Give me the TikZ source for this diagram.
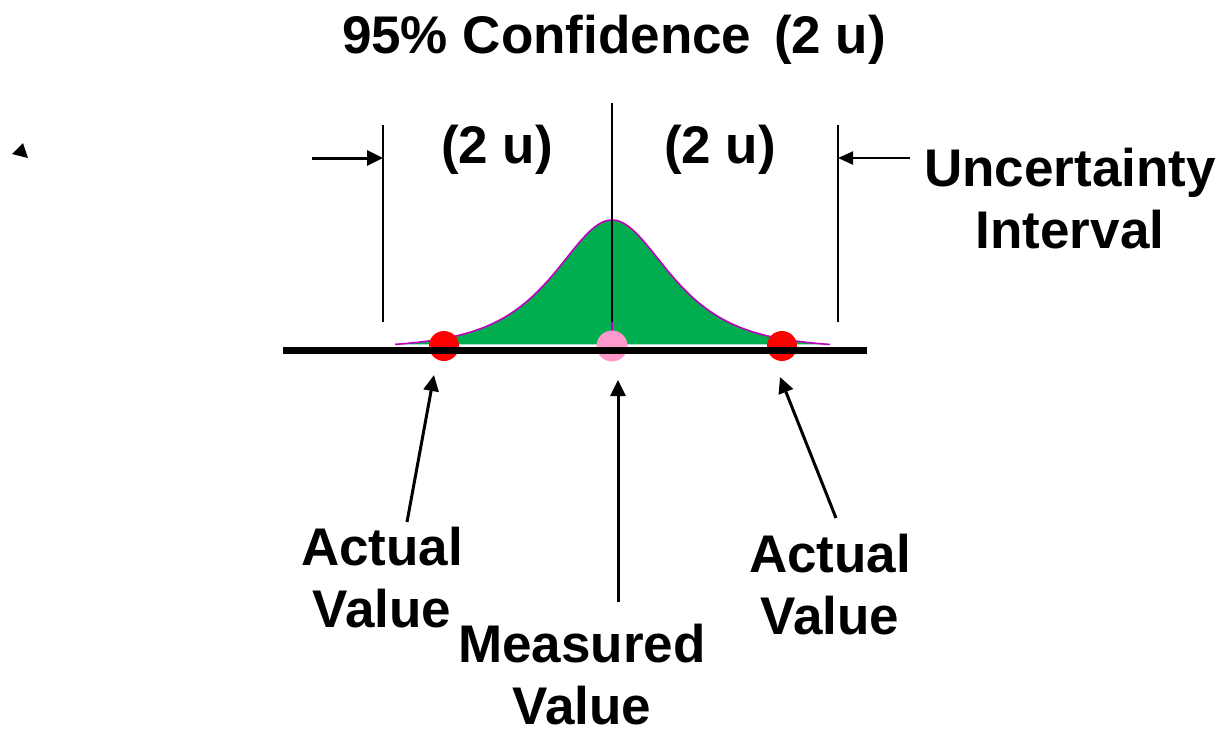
\documentclass[tikz,border=0pt]{standalone}
\usepackage{fontspec}
\setmainfont{Liberation Sans}
\usetikzlibrary{arrows.meta}
\definecolor{curvegreen}{RGB}{0,173,79}
\definecolor{curveedge}{RGB}{190,0,190}
\definecolor{dotpink}{RGB}{255,153,204}
\tikzset{
  lbl/.style={font=\fontsize{53}{62}\selectfont\bfseries, inner sep=0pt, align=center},
  thinline/.style={line width=2pt},
  ptr/.style={line width=3pt, -{Triangle[length=16pt,width=15pt]}},
  ptrthin/.style={line width=2pt, -{Triangle[length=15pt,width=13pt]}},
}
\begin{document}
\begin{tikzpicture}[x=1pt,y=-1pt]
\useasboundingbox (0,0) rectangle (1221,734);
% bell curve
\fill[curvegreen] plot[domain=-217:218,samples=160,smooth] ({612+\x},{348-128/cosh(\x/51)}) -- cycle;
\draw[curveedge,line width=1.6pt] plot[domain=-217:218,samples=160,smooth] ({612+\x},{348-128/cosh(\x/51)});
\draw[curveedge,line width=1.6pt] (612,222) -- (612,346);
% interval lines
\coordinate (lt) at (383,125); \coordinate (lb) at (383,322);
\coordinate (rt) at (838,125); \coordinate (rb) at (838,322);
\coordinate (ct) at (612,103); \coordinate (cb) at (612,322);
\draw[thinline] (lt) -- (lb);
\draw[thinline] (rt) -- (rb);
\draw[line width=2.5pt] (ct) -- (cb);
% dots
\fill[red] (444,346) circle (15);
\fill[red] (782,346) circle (15);
\fill[dotpink] (612,346) circle (15.5);
% baseline
\coordinate (bl) at (283,350.5); \coordinate (br) at (867,350.5);
\draw[line width=7pt] (bl) -- (br);
% labels
\node[lbl, anchor=base] (title) at (614,53) {95\% Confidence\hspace{0.15em} (2 u)};
\node[lbl, anchor=base] (twoul) at (497,163) {(2 u)};
\node[lbl, anchor=base] (twour) at (720,163) {(2 u)};
\node[lbl] (unc) at (1070,199) {Uncertainty\\Interval};
\node[lbl] (actl) at (382,578) {Actual\\Value};
\node[lbl] (actr) at (830,585) {Actual\\Value};
\node[lbl] (meas) at (582,675) {Measured\\Value};
% horizontal arrows
\coordinate (hla) at (312,158); \coordinate (hlb) at (383,158);
\coordinate (hra) at (910,158); \coordinate (hrb) at (838,158);
\draw[ptr] (hla) -- (hlb);
\draw[ptrthin] (hra) -- (hrb);
% pointer arrows
\coordinate (pl1) at (407,522); \coordinate (pl2) at (434,375);
\coordinate (pc1) at (618,602); \coordinate (pc2) at (618,380);
\coordinate (pr1) at (836,518); \coordinate (pr2) at (780,377);
\draw[ptr] (pl1) -- (pl2);
\draw[ptr] (pc1) -- (pc2);
\draw[ptr] (pr1) -- (pr2);
% small marker at top left
\fill (12,154) -- (23,143) -- (28,158) -- cycle;
\end{tikzpicture}
\end{document}
